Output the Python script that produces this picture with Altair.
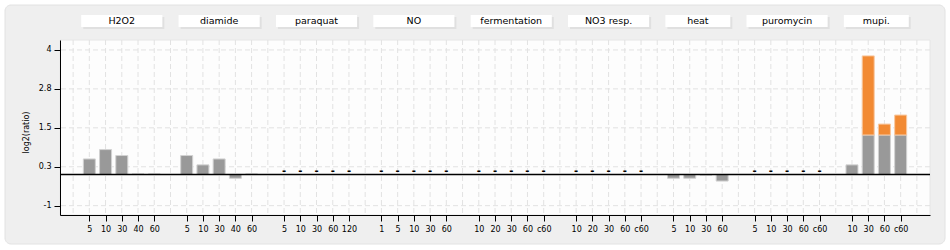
import json
import altair as alt
import pandas as pd

# ---------------- data ----------------
groups = ["H2O2", "diamide", "paraquat", "NO", "fermentation",
          "NO3 resp.", "heat", "puromycin", "mupi."]
time_labels = [
    ["5", "10", "30", "40", "60"],
    ["5", "10", "30", "40", "60"],
    ["5", "10", "30", "60", "120"],
    ["1", "5", "10", "30", "60"],
    ["10", "20", "30", "60", "c60"],
    ["10", "20", "30", "60", "c60"],
    ["5", "10", "30", "60"],
    ["5", "10", "30", "60", "c60"],
    ["10", "30", "60", "c60"],
]
# None = no measurement (shown as a dash)
gray_values = [
    [0.50, 0.80, 0.61, 0.02, 0.02],
    [0.61, 0.31, 0.50, -0.12, 0.02],
    [None, None, None, None, None],
    [None, None, None, None, None],
    [None, None, None, None, None],
    [None, None, None, None, None],
    [-0.12, -0.12, -0.02, -0.21],
    [None, None, None, None, None],
    [0.31, 1.27, 1.27, 1.27],
]
# total height where the value exceeds the gray part (orange overflow)
orange_tops = [
    [None] * 5, [None] * 5, [None] * 5, [None] * 5, [None] * 5,
    [None] * 5, [None] * 4, [None] * 5,
    [None, 3.81, 1.62, 1.91],
]
ytick_values = [-1, 0.25, 1.5, 2.75, 4]
ytick_labels = ["-1", "0.3", "1.5", "2.8", "4"]
y_title = "log2(ratio)"

# ---------------- tables ----------------
rows, headers = [], []
slot = 1
for gi, g in enumerate(groups):
    start = slot
    for j, lab in enumerate(time_labels[gi]):
        rows.append({"group": g, "slot": slot, "label": lab,
                     "gray": gray_values[gi][j], "top": orange_tops[gi][j]})
        slot += 1
    headers.append({"group": g, "x0": start - 0.5, "x1": slot - 0.5,
                    "xc": (start + slot - 1) / 2})
    slot += 1
n_slots = slot

df = pd.DataFrame(rows)
bars = df[df["gray"].notna()]
orange = df[df["top"].notna()]
missing = df[df["gray"].isna()]
hdr = pd.DataFrame(headers)
vgrid = pd.DataFrame({"slot": list(range(n_slots))})
hgrid = pd.DataFrame({"v": ytick_values})
one = pd.DataFrame({"a": [0]})

label_arr = [""] * n_slots
for r in rows:
    label_arr[r["slot"]] = r["label"]
x_label_expr = json.dumps(label_arr) + "[datum.value]"
y_label_expr = " : ".join(
    f"datum.value == {v} ? '{l}'" for v, l in zip(ytick_values, ytick_labels)
) + " : ''"

FONT = "DejaVu Sans"
xs = alt.Scale(domain=[-0.5, n_slots - 0.5], nice=False, zero=False)
ys = alt.Scale(domain=[-1.3, 4.32], nice=False, zero=False)

x_axis = alt.Axis(values=[r["slot"] for r in rows], labelExpr=x_label_expr,
                  grid=False, tickSize=6, labelPadding=4, labelFont=FONT,
                  labelFontSize=8, labelColor="#000000", tickColor="#000000",
                  domainColor="#000000", labelOverlap=False, labelFlush=False,
                  zindex=2)
y_axis = alt.Axis(values=ytick_values, labelExpr=y_label_expr, grid=False,
                  tickSize=6, labelPadding=3, labelFont=FONT, labelFontSize=8,
                  labelColor="#000000", tickColor="#000000",
                  domainColor="#000000", titleFont=FONT, titleFontSize=8,
                  titleFontWeight="normal", titleColor="#000000",
                  titleX=-34, titleY=92, titleAngle=-90,
                  titleBaseline="middle", titleAlign="center", zindex=2)

# ---------------- layers ----------------
panel = alt.Chart(one).mark_rect(
    fill="#efefef", stroke="#e2e2e2", strokeWidth=1, cornerRadius=6
).encode(x=alt.value(-55), x2=alt.value(885), y=alt.value(-35), y2=alt.value(204))

plotbg = alt.Chart(one).mark_rect(
    fill="#fdfdfd", stroke="#e6e6e6", strokeWidth=1
).encode(x=alt.value(0), x2=alt.value(870), y=alt.value(0), y2=alt.value(175))

vlines = alt.Chart(vgrid).mark_rule(
    color="#e2e2e2", strokeDash=[5, 3], strokeWidth=1
).encode(x=alt.X("slot:Q", scale=xs, axis=x_axis, title=None))

hlines = alt.Chart(hgrid).mark_rule(
    color="#e2e2e2", strokeDash=[5, 3], strokeWidth=1
).encode(y=alt.Y("v:Q", scale=ys, axis=y_axis, title=y_title))

hdr_shadow = alt.Chart(hdr).mark_rect(
    fill="#e0e0e0", xOffset=2, x2Offset=2, yOffset=2, y2Offset=2
).encode(
    x=alt.X("x0:Q", scale=xs, axis=x_axis, title=None), x2="x1:Q",
    y=alt.value(-25), y2=alt.value(-13),
)
hdr_box = alt.Chart(hdr).mark_rect(fill="#ffffff").encode(
    x=alt.X("x0:Q", scale=xs, axis=x_axis, title=None), x2="x1:Q",
    y=alt.value(-25), y2=alt.value(-13),
)
hdr_text = alt.Chart(hdr).mark_text(
    font=FONT, fontSize=9.5, color="#000000", baseline="middle", align="center"
).encode(
    x=alt.X("xc:Q", scale=xs, axis=x_axis, title=None), y=alt.value(-19),
    text="group:N",
)

gray_bars = alt.Chart(bars).mark_bar(
    size=12, fill="#999999", stroke="#d2d2d2", strokeWidth=1
).encode(
    x=alt.X("slot:Q", scale=xs, axis=x_axis, title=None),
    y=alt.Y("gray:Q", scale=ys, axis=y_axis, title=y_title),
    y2=alt.datum(0),
)

orange_bars = alt.Chart(orange).mark_bar(
    size=12, fill="#f28a33", stroke="#f8c9a2", strokeWidth=1
).encode(
    x=alt.X("slot:Q", scale=xs, axis=x_axis, title=None),
    y=alt.Y("top:Q", scale=ys, axis=y_axis, title=y_title),
    y2="gray:Q",
)

zero = alt.Chart(one).transform_calculate(z="0").mark_rule(
    color="#000000", strokeWidth=1.5
).encode(y=alt.Y("z:Q", scale=ys, axis=y_axis, title=y_title))

dashes = alt.Chart(missing).transform_calculate(z="0").mark_text(
    text="-", font=FONT, fontSize=10, fontWeight="bold", color="#000000",
    baseline="alphabetic", dy=-1
).encode(
    x=alt.X("slot:Q", scale=xs, axis=x_axis, title=None),
    y=alt.Y("z:Q", scale=ys, axis=y_axis, title=y_title),
)

chart = alt.layer(
    panel, plotbg, vlines, hlines, hdr_shadow, hdr_box, hdr_text,
    gray_bars, orange_bars, zero, dashes
).properties(
    width=870, height=175,
    autosize=alt.AutoSizeParams(type="none"),
    padding={"left": 60, "top": 40, "right": 20, "bottom": 35},
).configure(background="#ffffff").configure_view(stroke=None)

chart.save("out.html", embed_options={"renderer": "svg", "actions": False})
